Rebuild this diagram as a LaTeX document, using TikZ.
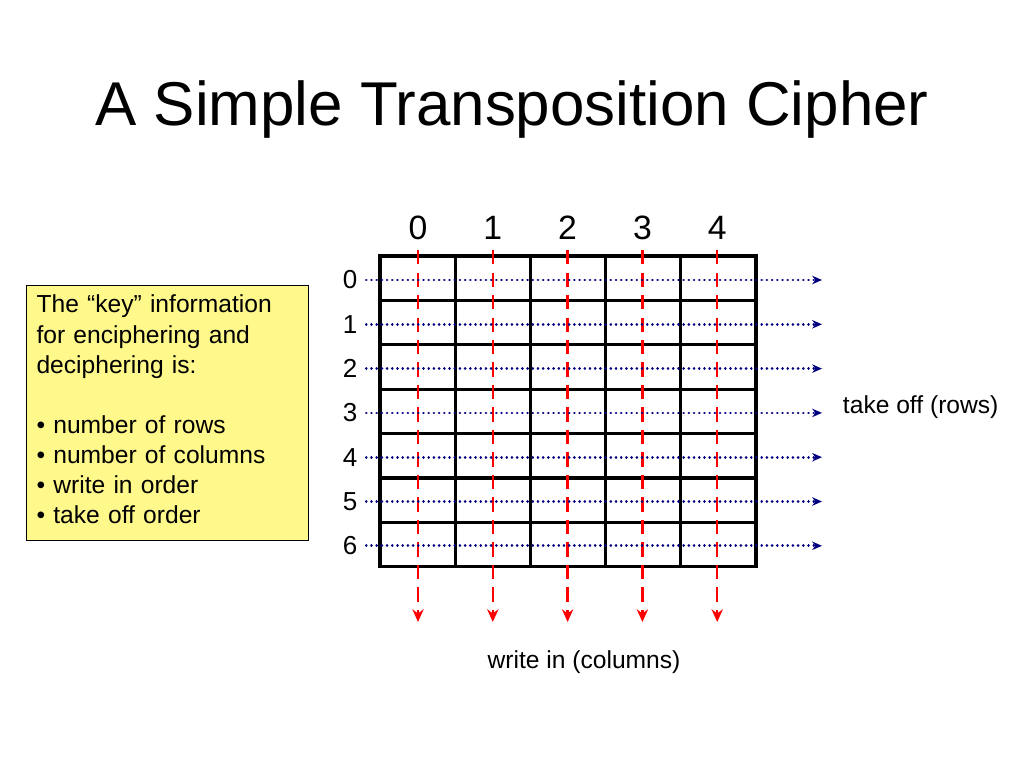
\documentclass[tikz,border=0pt]{standalone}
\usepackage{fontspec}
\setmainfont{Liberation Sans}
\usetikzlibrary{arrows.meta}
\begin{document}
\begin{tikzpicture}[x=0.025cm,y=-0.025cm,
  cell/.style={draw=black,line width=2.2pt},
  colarrow/.style={red,line width=1.7pt,dash pattern=on 10pt off 6pt,-{Stealth[length=9pt,width=8pt]}},
  rowarrow/.style={blue!50!black,line width=1.9pt,line cap=round,dash pattern=on 0.1pt off 3.6pt,-{Stealth[length=7pt,width=6pt]}},
  lbl/.style={font=\fontsize{17.5}{21.5}\selectfont}]
\useasboundingbox (0,0) rectangle (1024,768);
%  Title
\node (title) at (512,110) {\fontsize{44}{53}\selectfont A Simple Transposition Cipher};
%  Key information box
\node[draw=black,fill=yellow!45,line width=0.8pt,anchor=north west,align=left,
  text width=6.55cm,inner sep=0.22cm,lbl,minimum height=6.375cm,minimum width=7.05cm] (key) at (26,285)
  {\vbox to 5.9cm{\raggedright The \textquotedblleft key\textquotedblright\ information\\for enciphering and\\deciphering is:\\[21pt]
   \textbullet\ number of rows\\\textbullet\ number of columns\\\textbullet\ write in order\\\textbullet\ take off order\vfill}};
%  The grid
\foreach \c in {0,...,4}
  \foreach \r in {0,...,6}
    \draw[cell] ({380+75.2*\c},{256+44.4*\r}) rectangle ({380+75.2*(\c+1)},{256+44.4*(\r+1)});
%  Columns: labels and write in arrows
\foreach \c in {0,...,4} {
  \node (col\c) at ({418+74.8*\c},228) {\fontsize{24}{28}\selectfont \c};
  \coordinate (ctop\c) at ({418+74.8*\c},250);
  \coordinate (cbot\c) at ({418+74.8*\c},622);
  \draw[colarrow] (ctop\c) -- (cbot\c);
}
%  Rows: labels and take off arrows
\foreach \r in {0,...,6} {
  \node (row\r) at (350,{280+44.3*\r}) {\fontsize{18.5}{22}\selectfont \r};
  \coordinate (rend\r) at (822,{280+44.3*\r});
  \draw[rowarrow] (row\r.east) ++(4,0) -- (rend\r);
}
\node[lbl,anchor=west] (takeoff) at (838,407) {take off (rows)};
\node[lbl] (writein) at (584,662) {write in (columns)};
\end{tikzpicture}
\end{document}
